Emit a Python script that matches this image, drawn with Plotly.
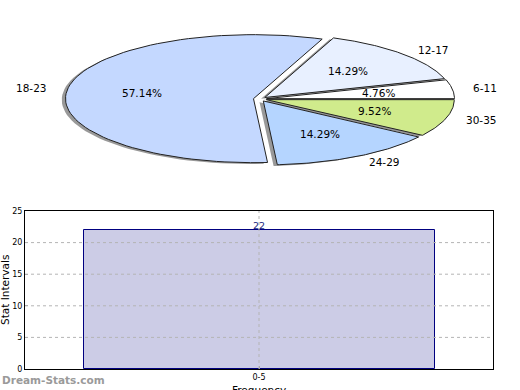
import numpy as np
import plotly.graph_objects as go

# ---- data ----
pie_labels = ["6-11", "12-17", "18-23", "24-29", "30-35"]
pie_counts = [1, 3, 12, 3, 2]
pie_colors = ["#FFFFFF", "#E8F0FF", "#C4D8FF", "#B5D5FF", "#D0EB8C"]

bar_categories = ["0-5"]
bar_values = [22]
y_ticks = [0, 5, 10, 15, 20, 25]

explode = 0.035
W, H = 520, 390

fig = go.Figure()

total = sum(pie_counts)
fracs = [c / total for c in pie_counts]
starts = np.cumsum([0] + fracs[:-1]) * 2 * np.pi

def slice_poly(a0, a1, cx, cy):
    t = np.linspace(a0, a1, 80)
    xs = np.concatenate([[cx], cx + np.cos(t), [cx]])
    ys = np.concatenate([[cy], cy + np.sin(t), [cy]])
    return xs, ys

geo = []
for lab, f, a0, col in zip(pie_labels, fracs, starts, pie_colors):
    a1 = a0 + f * 2 * np.pi
    mid = (a0 + a1) / 2
    cx, cy = explode * np.cos(mid), explode * np.sin(mid)
    geo.append((lab, f, a0, a1, mid, cx, cy, col))

# shadows
for lab, f, a0, a1, mid, cx, cy, col in geo:
    xs, ys = slice_poly(a0, a1, cx - 0.02, cy - 0.02)
    fig.add_trace(go.Scatter(x=xs, y=ys, mode="lines", fill="toself",
                             fillcolor="rgba(70,70,70,0.55)", line=dict(width=0),
                             xaxis="x2", yaxis="y2", hoverinfo="skip", showlegend=False))
# slices
for lab, f, a0, a1, mid, cx, cy, col in geo:
    xs, ys = slice_poly(a0, a1, cx, cy)
    fig.add_trace(go.Scatter(x=xs, y=ys, mode="lines", fill="toself",
                             fillcolor=col, line=dict(width=1, color="#222222"),
                             xaxis="x2", yaxis="y2", hoverinfo="skip", showlegend=False))

annotations = []
for lab, f, a0, a1, mid, cx, cy, col in geo:
    px_ = cx + 0.6 * np.cos(mid)
    py_ = cy + 0.6 * np.sin(mid)
    annotations.append(dict(x=px_, y=py_, xref="x2", yref="y2", text=f"{f*100:.2f}%",
                            showarrow=False, xanchor="center", yanchor="middle",
                            font=dict(size=10.5, color="black", family="DejaVu Sans")))
    lx = cx + 1.1 * np.cos(mid)
    ly = cy + 1.1 * np.sin(mid)
    annotations.append(dict(x=lx, y=ly, xref="x2", yref="y2", text=lab,
                            showarrow=False, xanchor="left" if lx > 0 else "right",
                            yanchor="middle",
                            font=dict(size=10.5, color="black", family="DejaVu Sans")))

# ---- bar chart ----
xpos = list(range(len(bar_categories)))
fig.add_trace(go.Bar(x=xpos, y=bar_values, width=0.75,
                     marker=dict(color="#CCCCE6", line=dict(color="#000080", width=1)),
                     hoverinfo="skip", showlegend=False, xaxis="x", yaxis="y"))
for xp, v in zip(xpos, bar_values):
    annotations.append(dict(x=xp, y=v, xref="x", yref="y", text=str(v), showarrow=False,
                            yanchor="middle", yshift=4,
                            font=dict(size=9.5, color="#1a2a80", family="DejaVu Sans")))

# dotted grid drawn above the bar (as in the original)
shapes = []
for t in y_ticks[1:-1]:
    shapes.append(dict(type="line", xref="x domain", yref="y", x0=0, x1=1, y0=t, y1=t,
                       line=dict(color="#b4b4b4", width=1, dash="dot"), layer="above"))
for xp in xpos:
    shapes.append(dict(type="line", xref="x", yref="y domain", x0=xp, x1=xp, y0=0, y1=1,
                       line=dict(color="#b4b4b4", width=1, dash="dot"), layer="above"))

# axis titles & watermark
annotations.append(dict(x=5 / W, y=1 - 290 / H, xref="paper", yref="paper", text="Stat Intervals",
                        textangle=-90, showarrow=False, xanchor="center", yanchor="middle",
                        font=dict(size=10.5, color="black", family="DejaVu Sans")))
annotations.append(dict(x=259 / W, y=1 - 382 / H, xref="paper", yref="paper", text="Frequency",
                        showarrow=False, xanchor="center", yanchor="top",
                        font=dict(size=10.5, color="black", family="DejaVu Sans")))
annotations.append(dict(x=0, y=1 - 380 / H, xref="paper", yref="paper", text="<b>Dream-Stats.com</b>",
                        showarrow=False, xanchor="left", yanchor="middle",
                        font=dict(size=10.5, color="#9a9a9a", family="DejaVu Sans")))

# pie axes mapping: px = 260 + X*188, py = 99 - Y*64
cxp, cyp, rx, ry = 260, 99, 188, 64
top_frac = 0.5
pie_h = H * (1 - top_frac)

axis_common = dict(showline=True, mirror=True, linecolor="black", linewidth=1,
                   showgrid=False, ticks="inside", ticklen=3, tickcolor="#999999",
                   tickfont=dict(size=8, family="DejaVu Sans", color="black"),
                   zeroline=False, fixedrange=True, automargin=False)

fig.update_layout(
    template="none",
    width=W, height=H, margin=dict(l=0, r=0, t=0, b=0, pad=0),
    paper_bgcolor="white", plot_bgcolor="white",
    annotations=annotations, shapes=shapes, bargap=0, showlegend=False,
    xaxis=dict(domain=[25 / W, 493 / W], range=[-0.5, 0.5],
               tickvals=xpos, ticktext=bar_categories, anchor="y", **axis_common),
    yaxis=dict(domain=[1 - 369 / H, 1 - 211 / H], range=[0, 25], tickvals=y_ticks,
               anchor="x", **axis_common),
    xaxis2=dict(domain=[0, 1], range=[-cxp / rx, (W - cxp) / rx], visible=False,
                fixedrange=True, anchor="y2", automargin=False),
    yaxis2=dict(domain=[top_frac, 1], range=[(cyp - pie_h) / ry, cyp / ry], visible=False,
                fixedrange=True, anchor="x2", automargin=False),
)

fig.write_html("out.html")
